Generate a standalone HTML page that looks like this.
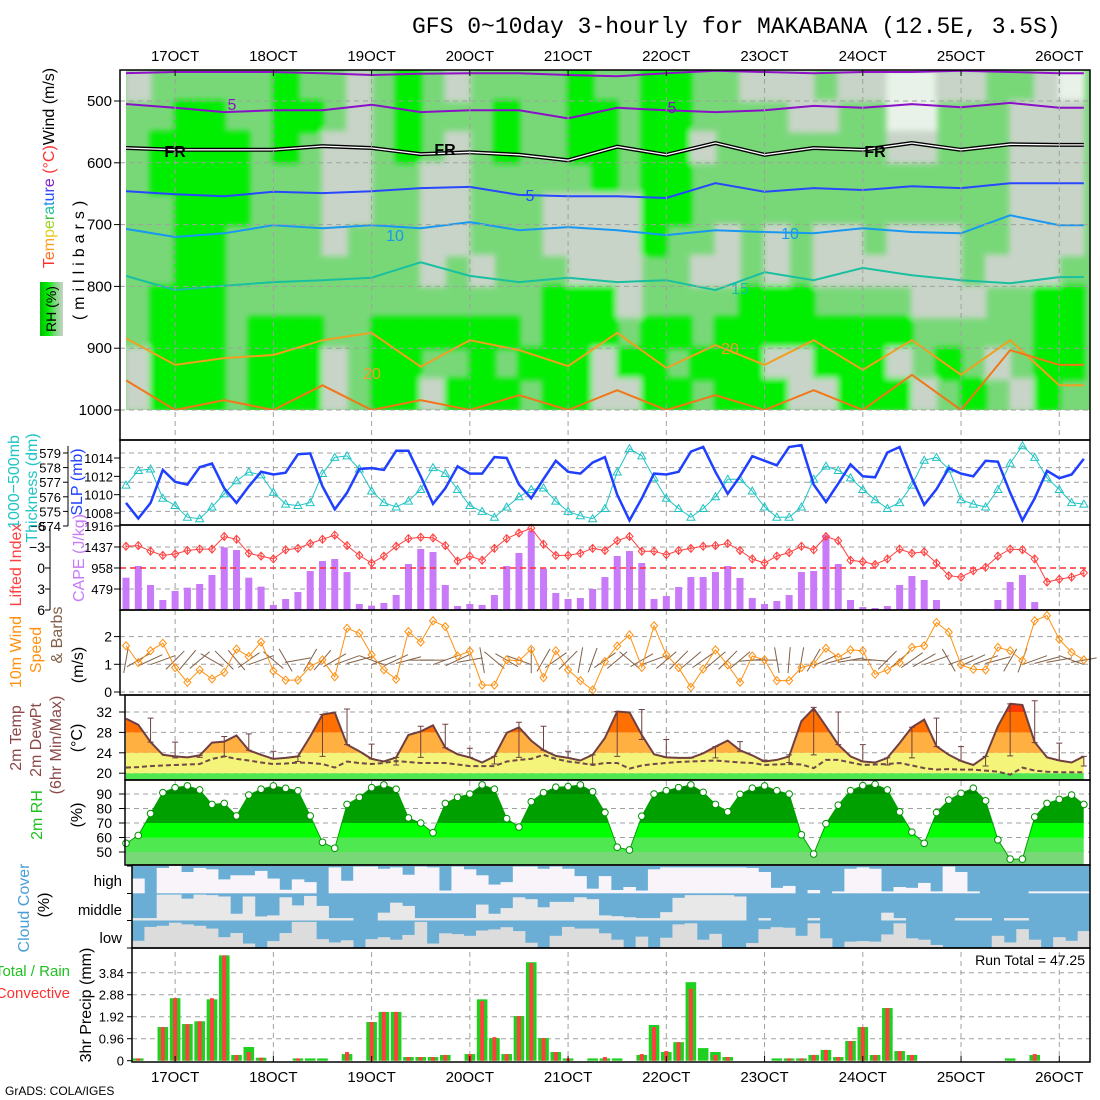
<!DOCTYPE html>
<html><head><meta charset="utf-8"><style>
html,body{margin:0;padding:0;background:#fff;}
svg{display:block;font-family:"Liberation Sans",sans-serif;}
</style></head><body>
<svg id="chart" width="1100" height="1100" viewBox="0 0 1100 1100" xmlns="http://www.w3.org/2000/svg">
<defs>
<clipPath id="clipTop"><rect x="126" y="70" width="964" height="340"/></clipPath>
<filter id="soft" x="-5%" y="-5%" width="110%" height="110%"><feGaussianBlur stdDeviation="3"/></filter>
<linearGradient id="rhLegend" x1="0" y1="0" x2="1" y2="0"><stop offset="0" stop-color="#00c000"/><stop offset="0.35" stop-color="#00ee00"/><stop offset="0.65" stop-color="#78d878"/><stop offset="1" stop-color="#c8d4c8"/></linearGradient>
</defs>
<text x="412" y="33" font-family="Liberation Mono, monospace" font-size="23">GFS 0~10day 3-hourly for MAKABANA (12.5E, 3.5S)</text>
<g id="g-top"></g>
<g id="g-frames"></g>
<g id="g-data"></g>
<g id="g-labels"></g>
</svg>
<script>
// ---------------- DATA ----------------
const dayLabels = ["17OCT","18OCT","19OCT","20OCT","21OCT","22OCT","23OCT","24OCT","25OCT","26OCT"];
const thickness = [576.8,577.8,577.9,575.9,575.4,574.6,574.5,575.3,576.2,577.1,577.7,577.5,576.3,575.5,575.4,575.6,577.6,578.7,578.8,577.9,576.4,575.6,575.3,575.7,576.5,578.0,577.6,576.5,575.4,575.0,574.6,575.3,576.0,576.5,576.6,575.7,575.0,574.7,574.5,575.2,577.7,579.3,578.8,577.3,575.9,575.2,574.6,575.2,576.0,577.2,577.2,576.4,575.3,574.6,574.6,575.3,577.2,578.1,577.8,577.3,576.5,575.8,575.2,575.6,576.8,578.5,578.7,577.9,575.8,575.5,575.3,576.5,578.3,579.5,578.7,577.3,576.5,575.6,575.5];
const slp = [1009.1,1007.4,1009.1,1012.7,1011.4,1011.1,1013.0,1013.4,1010.7,1009.1,1010.9,1012.5,1012.2,1012.4,1014.4,1014.5,1010.9,1008.4,1010.2,1012.8,1012.9,1012.7,1014.8,1014.8,1012.0,1009.0,1010.7,1013.1,1012.3,1012.3,1014.1,1014.0,1011.1,1009.6,1011.7,1013.7,1012.5,1012.3,1013.5,1014.1,1010.0,1007.2,1009.6,1012.3,1012.2,1012.5,1014.7,1015.2,1012.5,1010.1,1012.0,1014.2,1013.7,1013.2,1015.2,1015.4,1011.1,1009.2,1011.2,1013.3,1012.0,1011.9,1014.6,1015.2,1011.8,1008.9,1010.6,1012.9,1012.3,1012.0,1013.7,1013.6,1010.2,1007.2,1009.6,1012.6,1011.8,1012.2,1013.9];
const liftedIndex = [-3.1,-3.2,-2.4,-1.8,-2.0,-2.5,-2.7,-2.7,-4.5,-4.1,-2.1,-1.7,-1.3,-2.6,-2.8,-3.5,-4.1,-4.7,-3.2,-1.8,-0.7,-1.7,-3.1,-4.2,-4.4,-4.3,-3.2,-1.0,-1.7,-1.1,-2.8,-4.2,-5.0,-5.7,-3.4,-1.8,-1.8,-2.1,-2.8,-2.5,-3.9,-4.5,-2.4,-2.4,-1.9,-2.5,-2.8,-3.1,-3.2,-3.5,-2.5,-1.3,-0.7,-1.7,-2.2,-3.1,-2.6,-4.5,-3.9,-1.1,-0.9,-0.5,-1.3,-2.7,-2.1,-2.3,-0.7,1.1,1.3,0.4,-0.1,-1.7,-2.7,-2.6,-1.3,2.0,1.6,1.3,0.7];
const cape = [737,1003,570,228,433,509,593,798,1429,1368,737,532,114,251,410,889,1117,1163,866,137,99,160,342,1049,1391,1322,570,91,137,114,342,1003,1300,1801,942,388,251,274,479,752,1231,1345,1072,251,319,524,752,752,866,1003,730,274,137,205,342,866,889,1710,1049,228,68,46,91,570,775,684,228,0,0,0,23,228,638,798,182,0,0,0,23];
const windSpeed = [1.67,1.06,1.49,1.76,0.88,0.35,0.80,0.47,0.71,1.55,1.28,1.80,0.76,0.43,0.43,0.92,1.16,0.55,2.30,2.12,1.34,0.80,0.46,2.18,1.80,2.57,2.36,1.30,1.48,0.25,0.25,1.16,1.13,1.54,0.52,1.49,0.80,0.41,0.07,1.10,1.66,2.06,0.89,2.39,1.34,0.88,0.17,0.83,1.52,0.98,0.35,1.30,1.16,0.41,0.41,0.88,1.01,1.58,1.25,1.52,1.49,0.64,0.80,1.06,1.61,1.67,2.51,2.16,0.98,0.82,0.80,1.61,1.49,1.13,2.57,2.76,1.90,1.43,1.16];
const windBarbAngle = [80,30,25,20,45,50,40,150,135,130,35,20,140,120,10,60,50,30,20,15,160,20,25,15,0,0,20,25,10,100,140,150,160,90,60,35,45,80,70,35,40,140,30,20,40,45,40,35,40,45,40,5,0,100,85,80,60,25,15,10,0,175,45,40,35,30,20,120,20,25,20,15,60,70,20,15,10,160,10];
const temp2m = [30.7,29.5,26.1,23.6,23.3,23.1,23.5,26.0,26.2,27.4,24.5,23.6,22.8,23.0,23.3,27.2,31.5,31.9,25.6,24.3,22.8,22.3,23.1,27.5,28.2,29.4,25.0,23.7,23.1,22.1,23.3,27.9,29.0,26.4,24.5,23.4,23.0,22.5,23.6,26.9,32.1,31.9,27.5,23.7,23.1,23.0,23.0,23.9,25.2,26.4,24.5,23.5,22.3,22.6,23.3,30.2,32.7,29.2,25.6,23.3,22.3,22.1,23.0,25.9,29.0,30.5,25.3,23.6,22.4,21.6,23.3,29.2,33.6,33.4,26.1,23.1,22.5,22.1,23.3];
const dewpt2m = [21.1,21.2,21.4,21.5,21.6,21.7,21.8,22.8,23.3,22.8,22.5,22.1,21.8,21.9,22.1,22.0,21.8,21.1,22.3,22.0,21.8,22.0,22.4,22.2,22.0,22.0,22.0,21.7,21.4,21.4,21.4,22.3,22.6,22.8,23.6,22.8,22.3,22.0,21.6,22.0,22.0,20.9,21.5,21.8,22.0,22.2,22.3,22.4,22.5,22.3,22.1,22.0,21.6,21.7,21.8,21.7,21.0,22.6,22.6,22.1,21.6,21.7,21.8,22.0,21.5,21.0,20.7,20.8,20.7,20.7,20.5,20.3,19.7,21.1,20.5,20.3,20.2,20.2,20.2];
// 6-hourly max/min, at steps 2,4,...,78
const tmax6 = [30.8,26.1,23.5,27.2,27.7,24.3,23.3,31.5,32.6,25.7,23.1,29.2,29.6,24.9,23.3,30.0,29.2,24.3,23.6,32.1,32.5,26.6,23.1,25.2,26.2,22.6,23.6,32.9,32.0,25.6,23.0,29.0,30.8,25.2,23.3,33.6,34.2,25.9,23.3];
const tmin6 = [26.1,23.0,23.1,23.3,24.5,22.8,22.3,23.3,25.6,22.8,21.6,23.1,25.0,23.1,21.8,23.1,24.5,23.0,21.8,23.3,26.6,23.1,23.0,23.0,24.3,22.3,22.1,23.6,25.6,22.3,21.6,23.0,25.2,22.4,21.4,23.4,26.0,22.5,21.4];
const rh2m = [56.0,61.4,76.5,90.9,94.4,95.6,92.8,82.8,83.5,74.9,89.3,93.3,95.6,93.9,92.3,74.9,56.7,52.6,82.8,87.7,94.4,96.3,93.3,73.5,70.0,63.3,83.5,87.7,90.0,96.3,93.3,73.0,67.2,84.7,90.9,94.7,95.1,96.3,91.6,77.2,53.3,51.4,74.7,90.0,92.3,94.4,96.3,91.2,82.8,77.7,89.8,94.0,95.6,92.3,90.0,61.9,48.6,69.5,82.3,92.3,95.8,96.7,92.8,77.7,63.7,56.0,77.2,85.8,90.5,94.0,85.3,58.4,45.1,45.1,74.2,83.5,86.3,89.3,82.8];
// cloud cover (%) for steps 1..78
const cloudHigh = [46,100,7,0,22,7,12,49,34,34,18,46,87,49,59,100,5,54,2,2,10,5,32,2,5,90,2,12,34,68,59,2,2,10,2,10,37,83,37,88,77,90,12,5,5,5,5,5,5,5,7,22,80,73,100,88,100,93,10,5,10,93,77,80,62,93,2,22,93,100,100,100,100,93,93,93,93,93];
const cloudMid = [91,91,4,4,19,4,6,11,75,11,85,81,14,44,9,46,91,91,100,100,71,34,46,91,91,91,91,91,41,75,54,14,21,51,31,31,14,21,81,84,88,91,91,69,16,6,6,6,6,11,100,91,100,100,100,91,100,100,100,100,100,71,91,100,100,100,100,91,91,91,100,91,91,100,100,100,100,100];
const cloudLow = [73,23,19,8,14,19,29,60,45,83,98,74,45,5,5,67,79,71,100,67,60,69,52,5,83,46,49,55,36,32,24,38,80,98,55,23,29,29,46,69,100,58,100,62,14,10,69,48,100,100,81,31,24,26,55,10,64,100,76,74,76,50,10,64,69,88,100,100,100,100,55,79,31,69,100,60,73,38];
// 3-hr precip (mm) for steps 1..78
const precipTotal = [0.1,0,1.47,2.73,1.6,1.72,2.68,4.6,0.25,0.6,0.13,0,0,0.1,0.1,0.1,0,0.29,0,1.69,2.13,2.13,0.16,0.16,0.16,0.25,0,0.29,2.68,0.99,0.29,1.95,4.3,0.99,0.38,0.1,0,0.1,0.1,0.1,0,0.25,1.56,0.38,0.81,3.43,0.55,0.38,0.16,0,0,0,0.1,0.1,0.1,0.25,0.47,0.16,0.86,1.47,0.25,2.3,0.42,0.25,0,0,0,0,0,0,0,0.1,0,0.25,0,0,0,0];
const precipConv = [0.1,0,1.47,2.73,1.6,1.72,2.73,4.6,0.25,0.38,0.13,0,0,0.1,0,0,0,0.38,0,1.69,2.13,2.13,0.16,0.16,0.16,0.25,0,0.29,2.6,1.03,0.29,1.95,4.26,0.99,0.38,0.1,0,0,0.16,0,0,0.29,1.47,0.42,0.81,3.14,0,0.25,0.16,0,0,0,0,0.1,0.1,0.25,0.47,0.16,0.86,1.47,0.25,2.3,0.42,0.25,0,0,0,0,0,0,0,0,0,0.29,0,0,0,0];
// upper-air RH class grid: rows 450-500 ... 950-1000 mb, 6-hourly columns. 0=grey 1=light green 2=green 3=very light
const rhRows = [
"011111211012101111211221100010033001103",
"112211221012111211221221111001133111000",
"122221210012101211221220111111100111000",
"122221110011001111121221111111111111000",
"112221110011001110000221111111111111000",
"112211110111001110000211010100100011000",
"112211111111010111000110010100000010001",
"122211111111111112220111122211110001122",
"122212221122222212221221222222221111122",
"022212220122112122202212220022201210122",
"022212220122022212200221222002220121021"];
// temperature contours: pressure (mb) sampled every 12 h (steps 0,4,...,76, 78)
const contourSteps = [0,4,8,12,16,20,24,28,32,36,40,44,48,52,56,60,64,68,72,76,78];
const isoM10 = [455,453,453,453,455,458,456,455,455,458,460,455,451,453,455,453,453,451,453,455,455];
const isoM5 = [505,511,518,515,515,506,518,515,515,528,511,515,518,515,508,511,505,510,503,511,511];
const isoFR = [576,579,579,579,573,576,586,583,587,596,574,587,568,587,576,579,568,579,570,571,571];
const iso5 = [646,651,654,647,649,646,641,639,652,654,654,657,633,647,641,644,638,641,633,633,633];
const iso10 = [707,720,714,701,706,701,706,696,709,704,709,717,709,712,714,706,712,714,685,701,701];
const iso15 = [783,806,799,793,790,786,761,783,793,786,793,790,806,777,790,770,782,790,795,785,785];
const iso20 = [884,927,916,911,887,875,930,887,903,929,875,932,895,927,887,935,887,943,887,960,960];
const iso25 = [952,1000,984,1000,960,1000,984,1000,976,1000,968,1000,976,1000,968,1000,943,1000,903,927,927];
const pTicks = [500,600,700,800,900,1000];
const thickTicks = [574,575,576,577,578,579];
const slpTicks = [1008,1010,1012,1014];
const liTicks = [-3,0,3,6];
const capeTicks = [479,958,1437,1916];
const wsTicks = [0,1,2];
const tTicks = [20,24,28,32];
const rhTicks = [50,60,70,80,90];
const prTicks = [0,0.96,1.92,2.88,3.84];
const prTickLabels = ["0","0.96","1.92","2.88","3.84"];

// ---------------- SCALES ----------------
const NS = "http://www.w3.org/2000/svg";
const X = i => 126 + 12.28 * i;
const Yp = p => 101 + (p - 500) * 0.618;
const Yth = t => 453 + (579 - t) * 14.6;
const Yslp = s => 458 + (1014 - s) * 9.17;
const Yli = v => 568 + v * 7;
const Ycape = c => 610 - c * 21 / 479;
const Yws = v => 692 - v * 27.7;
const Yt = t => 712 + (32 - t) * 5.1;
const Yrh = r => 794 + (90 - r) * 1.45;
const Ypr = p => 1060.7 - p * 22.9;
const CH = {high:[866,27.3], mid:[893.5,27], low:[920.5,27.8]};

function el(tag, attrs, parent) {
  const e = document.createElementNS(NS, tag);
  for (const k in attrs) e.setAttribute(k, attrs[k]);
  parent.appendChild(e);
  return e;
}
const gTop = document.getElementById('g-top');
const gF = document.getElementById('g-frames');
const gD = document.getElementById('g-data');
const gL = document.getElementById('g-labels');

// ---------------- TOP PANEL ----------------
const rhCol = {"0":"#c8d4c8","1":"#78d878","2":"#00ee00","3":"#e8f2e8"};
const topClip = el('g', {'clip-path':'url(#clipTop)'}, gTop);


el('rect', {x:126,y:70,width:964,height:340,fill:'#78d878'}, topClip);
const blurG = el('g', {filter:'url(#soft)'}, topClip);
rhRows.forEach((row, r) => {
  for (let c = 0; c < 39; c++) {
    const v = row[c] || '1';
    if (v === '1') continue;
    const y0 = Yp(450 + 50 * r), y1 = Yp(500 + 50 * r);
    const rc = el('rect', {x:X(2*c)-1, y:y0-1, width:X(2*c+2)-X(2*c)+2, height:y1-y0+2, fill:rhCol[v]}, blurG);
    
    
  }
});
function contour(arr, color, w, name, fr) {
  const pts = arr.map((p, k) => X(contourSteps[k]).toFixed(1) + ',' + Yp(Math.min(p,1000)).toFixed(1)).join(' ');
  if (fr) {
    const b = el('polyline', {points:pts, fill:'none', stroke:'#000', 'stroke-width':4}, topClip);
    
    
    const wl = el('polyline', {points:pts, fill:'none', stroke:'#fff', 'stroke-width':1.3}, topClip);
    
    
  } else {
    const l = el('polyline', {points:pts, fill:'none', stroke:color, 'stroke-width':w}, topClip);
    
    
  }
}
contour(isoM10, '#9010c8', 2, 'isotherm-minus10');
contour(isoM5, '#8a10c8', 2, 'isotherm-minus5');
contour(isoFR, '#000', 2, 'freezing-level', true);
contour(iso5, '#2848ff', 2, 'isotherm-5');
contour(iso10, '#1898f0', 2, 'isotherm-10');
contour(iso15, '#18c0a0', 2, 'isotherm-15');
contour(iso20, '#f0a020', 2, 'isotherm-20');
contour(iso25, '#f07818', 2, 'isotherm-25');
const cLabels = [["5",232,110,'#8a10c8'],["FR",175,157,'#000'],["FR",445,155,'#000'],["FR",875,157,'#000'],["5",530,201,'#2848ff'],["5",672,113,'#8a10c8'],["10",395,241,'#1898f0'],["10",790,239,'#1898f0'],["15",740,294,'#18c0a0'],["20",372,379,'#f0a020'],["20",730,354,'#f0a020']];
cLabels.forEach(l => {
  const t = el('text', {x:l[1], y:l[2], fill:l[3], 'font-size':16, 'font-weight': l[0]==='FR'?'bold':'normal', 'text-anchor':'middle'}, topClip);
  t.textContent = l[0];
  
  
});

// ---------------- FRAMES & GRIDS ----------------
function dashH(y, x0, x1) {
  const l = el('line', {x1:x0, x2:x1, y1:y, y2:y, stroke:'#a0a0a0', 'stroke-width':1, 'stroke-dasharray':'5,4'}, gF);
  
  
}
pTicks.forEach(p => dashH(Yp(p), 120, 1090));
thickTicks.slice(1).forEach(t => dashH(Yth(t), 120, 1090));
liTicks.slice(0,3).forEach(v => { if (v !== 0) dashH(Yli(v), 120, 1090); });
wsTicks.forEach(v => dashH(Yws(v), 120, 1090));
tTicks.forEach(v => dashH(Yt(v), 125, 1090));
rhTicks.forEach(v => dashH(Yrh(v), 125, 1090));

// ---------------- THICKNESS / SLP ----------------
function polyline(vals, fx, color, w, name, dash) {
  const pts = vals.map((v, i) => X(i).toFixed(1) + ',' + fx(v).toFixed(1)).join(' ');
  const a = {points:pts, fill:'none', stroke:color, 'stroke-width':w};
  if (dash) a['stroke-dasharray'] = dash;
  const l = el('polyline', a, gD);
  
  
  return l;
}
polyline(thickness, Yth, '#20c4c4', 1, 'thickness-line');
thickness.forEach((v, i) => {
  const x = X(i), y = Yth(v);
  const m = el('polygon', {points:`${x},${y-4} ${x-4},${y+3} ${x+4},${y+3}`, fill:'none', stroke:'#20c4c4', 'stroke-width':1}, gD);
  
  
});
polyline(slp, Yslp, '#2040ff', 2.5, 'slp-line');

// ---------------- LI / CAPE ----------------
cape.forEach((c, i) => {
  if (c <= 0) return;
  const b = el('rect', {x:X(i)-3.5, y:Ycape(c), width:7, height:610-Ycape(c), fill:'#c87af8'}, gD);
  
  
});
const zl = el('line', {x1:120, x2:1090, y1:Yli(0), y2:Yli(0), stroke:'#ff3030', 'stroke-width':1.5, 'stroke-dasharray':'6,4'}, gD);


polyline(liftedIndex, Yli, '#ff4040', 1, 'lifted-index-line');
liftedIndex.forEach((v, i) => {
  const x = X(i), y = Yli(v);
  const m = el('path', {d:`M${x-3.5},${y} L${x},${y-4} L${x+3.5},${y} L${x},${y+4} Z M${x},${y-4} L${x},${y+4}`, fill:'none', stroke:'#ff4040', 'stroke-width':1}, gD);
  
  
});

// ---------------- WIND ----------------
windBarbAngle.forEach((a, i) => {
  const r = a * Math.PI / 180, x = X(i), y = Yws(1.15);
  const dx = Math.cos(r) * 13, dy = -Math.sin(r) * 13;
  const b = el('line', {x1:x-dx, y1:y-dy, x2:x+dx, y2:y+dy, stroke:'#806048', 'stroke-width':1}, gD);
  
  
});
polyline(windSpeed, Yws, '#ff9010', 1, 'wind-speed-line');
windSpeed.forEach((v, i) => {
  const x = X(i), y = Yws(v);
  const m = el('path', {d:`M${x-3.5},${y} L${x},${y-4} L${x+3.5},${y} L${x},${y+4} Z`, fill:'none', stroke:'#ff9010', 'stroke-width':1}, gD);
  
  
});

// ---------------- BANDED AREA helper ----------------
function bandedArea(vals, fy, bands, baseY, name) {
  const id = 'clip-' + name;
  const cp = el('clipPath', {id:id}, gD);
  let d = `M${X(0)},${baseY} ` + vals.map((v, i) => `L${X(i).toFixed(1)},${fy(v).toFixed(1)}`).join(' ') + ` L${X(vals.length-1)},${baseY} Z`;
  el('path', {d:d}, cp);
  const g = el('g', {'clip-path':`url(#${id})`}, gD);
  
  
  bands.forEach(b => {
    const y0 = fy(b[1]), y1 = fy(b[0]);
    const r = el('rect', {x:X(0), y:Math.min(y0,y1), width:X(vals.length-1)-X(0), height:Math.abs(y1-y0), fill:b[2]}, g);
    
    
  });
}
// ---------------- TEMP ----------------
bandedArea(temp2m, Yt, [[18.6,20,'#50e850'],[20,24,'#f4f47a'],[24,28,'#ffb040'],[28,32,'#ff7000'],[32,40,'#ff3800']], 780, 'temp-fill');
polyline(temp2m, Yt, '#704040', 2, 'temp-line');
polyline(dewpt2m, Yt, '#704848', 2, 'dewpoint-line', '5,3');
tmax6.forEach((mx, k) => {
  const i = 2 * (k + 1), x = X(i), y0 = Yt(mx), y1 = Yt(tmin6[k]);
  const w = el('path', {d:`M${x},${y0} L${x},${y1} M${x-3},${y0} L${x+3},${y0} M${x-3},${y1} L${x+3},${y1}`, stroke:'#704040', 'stroke-width':1, fill:'none'}, gD);
  
  
});
// ---------------- RH ----------------
bandedArea(rh2m, Yrh, [[40,50,'#78d878'],[50,60,'#50e850'],[60,70,'#00ff00'],[70,90,'#00a000'],[90,100,'#008800']], 865, 'rh-fill');
polyline(rh2m, Yrh, '#00a000', 1, 'rh-line');
rh2m.forEach((v, i) => {
  const c = el('circle', {cx:X(i), cy:Yrh(v), r:3.3, fill:'#fff', stroke:'#009000', 'stroke-width':1}, gD);
  
  
});

// ---------------- CLOUD ----------------
const cb = el('rect', {x:132, y:866, width:958, height:82, fill:'#6aaed6'}, gD);


function cloudRow(vals, key, color, name) {
  const [top, h] = CH[key];
  vals.forEach((v, k) => {
    const i = k + 1;
    const clear = (100 - v) / 100 * h;
    if (clear <= 0) return;
    const x0 = Math.max(132, X(i) - 6.14), x1 = Math.min(1090, X(i) + 6.14);
    const r = el('rect', {x:x0, y:top + h - clear, width:x1 - x0 + 0.3, height:clear, fill:color}, gD);
    
    
  });
}
cloudRow(cloudHigh, 'high', '#f8f4fa', 'high-cloud-clear');
cloudRow(cloudMid, 'mid', '#e8e8e8', 'mid-cloud-clear');
cloudRow(cloudLow, 'low', '#dcdcdc', 'low-cloud-clear');
[893.5, 920.5].forEach(y => dashH(y, 132, 1090));

// ---------------- PRECIP ----------------
prTicks.slice(1).forEach(v => dashH(Ypr(v), 132, 1090));
precipTotal.forEach((v, k) => {
  const i = k + 1;
  if (v > 0) {
    const b = el('rect', {x:X(i)-5.3, y:Ypr(v), width:10.6, height:1060.7-Ypr(v), fill:'#20d020'}, gD);
    
    
  }
  const c = precipConv[k];
  if (c > 0) {
    const r = el('rect', {x:X(i)-2, y:Ypr(c), width:4, height:1060.7-Ypr(c), fill:'#ff4040'}, gD);
    
    
  }
});

// vertical day lines
dayLabels.forEach((d, k) => {
  const x = X(4 + 8 * k);
  const l = el('line', {x1:x, x2:x, y1:70, y2:1062, stroke:'#a0a0a0', 'stroke-width':1, 'stroke-dasharray':'5,4'}, gF);
  
  
  [[61,'top'],[1082,'bottom']].forEach(p => {
    const t = el('text', {x:x, y:p[0], 'font-size':15, 'text-anchor':'middle'}, gL);
    t.textContent = d;
    
    
  });
  [[70,76],[1056,1062]].forEach(p => {
    const tk = el('line', {x1:x, x2:x, y1:p[0], y2:p[1], stroke:'#000'}, gL);
    
    
  });
});

// panel frames
[[120,70,970,370,'upper-air-panel'],[120,440,970,85,'thickness-slp-panel'],[120,525,970,85,'li-cape-panel'],[120,610,970,85,'wind-panel'],[125,695,965,85,'temp-panel'],[125,780,965,85,'rh-panel'],[132,865,958,83,'cloud-panel'],[132,948,958,114,'precip-panel']].forEach(f => {
  const r = el('rect', {x:f[0], y:f[1], width:f[2], height:f[3], fill:'none', stroke:'#000', 'stroke-width':1.5}, gL);
  
  
});

// ---------------- AXIS LABELS ----------------
function tickLabel(txt, x, y, anchor, size, color, name) {
  const t = el('text', {x:x, y:y, 'font-size':size, 'text-anchor':anchor, fill:color || '#000'}, gL);
  t.textContent = txt;
  
  
  return t;
}
function tick(x0, x1, y, name) {
  const l = el('line', {x1:x0, x2:x1, y1:y, y2:y, stroke:'#000'}, gL);
  
  
}
pTicks.forEach(p => { tickLabel(String(p), 112, Yp(p)+5, 'end', 15, '#000', 'pressure-tick-label'); tick(114, 120, Yp(p), 'pressure-tick'); });
thickTicks.forEach(t => { tickLabel(String(t), 61, Yth(t)+5, 'end', 13, '#000', 'thickness-tick-label'); tick(63, 68, Yth(t), 'thickness-tick'); });
const ax1 = el('line', {x1:68, x2:68, y1:446, y2:526, stroke:'#000'}, gL);


slpTicks.forEach(s => { tickLabel(String(s), 113, Yslp(s)+5, 'end', 13, '#000', 'slp-tick-label'); tick(114, 120, Yslp(s), 'slp-tick'); });
liTicks.forEach(v => { tickLabel(String(v).replace('-','\u2212'), 45, Yli(v)+5, 'end', 14, '#000', 'li-tick-label'); tick(45, 50, Yli(v), 'li-tick'); });
tickLabel('\u22126', 45, 531, 'end', 13, '#000', 'li-tick-label');
const ax2 = el('line', {x1:50, x2:50, y1:526, y2:610, stroke:'#000'}, gL);


capeTicks.forEach(c => { tickLabel(String(c), 113, Ycape(c)+5, 'end', 13, '#000', 'cape-tick-label'); tick(114, 120, Ycape(c), 'cape-tick'); });
wsTicks.forEach(v => { tickLabel(String(v), 112, Yws(v)+5, 'end', 14, '#000', 'wind-tick-label'); tick(114, 120, Yws(v), 'wind-tick'); });
tTicks.forEach(v => { tickLabel(String(v), 112, Yt(v)+5, 'end', 14, '#000', 'temp-tick-label'); tick(119, 125, Yt(v), 'temp-tick'); });
rhTicks.forEach(v => { tickLabel(String(v), 112, Yrh(v)+5, 'end', 14, '#000', 'rh-tick-label'); tick(119, 125, Yrh(v), 'rh-tick'); });
[['high',881],['middle',910],['low',938]].forEach(c => tickLabel(c[0], 122, c[1]+5, 'end', 15, '#000', 'cloud-level-label'));
[866, 893.5, 920.5, 948].forEach(y => tick(127, 132, y, 'cloud-tick'));
prTicks.forEach((v, k) => { tickLabel(prTickLabels[k], 124, Ypr(v)+5, 'end', 13, '#000', 'precip-tick-label'); tick(127, 132, Ypr(v), 'precip-tick'); });
tickLabel('Run Total = 47.25', 1085, 965, 'end', 14, '#000', 'run-total-label');
tickLabel('GrADS: COLA/IGES', 5, 1095, 'start', 12, '#000', 'credit-label');
tickLabel('Total / Rain', 70, 976, 'end', 15, '#20c020', 'precip-legend-total');
tickLabel('Convective', 70, 998, 'end', 15, '#ff3030', 'precip-legend-convective');

function vlabel(parts, cx, cy, size, name, spacing) {
  const t = el('text', {transform:`translate(${cx},${cy}) rotate(-90)`, 'font-size':size, 'text-anchor':'middle', 'dominant-baseline':'middle'}, gL);
  if (spacing) t.setAttribute('letter-spacing', spacing);
  parts.forEach(p => {
    const s = el('tspan', {fill:p[1]}, t);
    s.textContent = p[0];
  });
  
  
}
vlabel([['T','#ff3030'],['e','#ff7020'],['m','#ffa020'],['p','#e0d020'],['e','#a0d020'],['r','#40c040'],['a','#20c0a0'],['t','#2090e0'],['u','#2050ff'],['r','#4040ff'],['e','#8020c8'],[' (\u00b0C)','#ff3030'],['Wind (m/s)','#000']], 50, 168, 16, 'temperature-wind-axis-title');
vlabel([['(millibars)','#000']], 80, 258, 16, 'pressure-axis-title', '5');
const rhBox = el('rect', {x:40, y:282, width:23, height:54, fill:'url(#rhLegend)'}, gL);


vlabel([['RH (%)','#000']], 52, 309, 14, 'rh-legend-label');
vlabel([['1000\u2212500mb','#20c4c4']], 15, 482, 16, 'thickness-axis-title');
vlabel([['Thickness (dm)','#20c4c4']], 33, 488, 16, 'thickness-unit-title');
vlabel([['SLP (mb)','#2040ff']], 78, 482, 16, 'slp-axis-title');
vlabel([['Lifted Index','#ff4040']], 17, 565, 16, 'lifted-index-title');
vlabel([['CAPE (J/kg)','#c87af8']], 80, 558, 16, 'cape-title');
vlabel([['10m Wind','#ff9010']], 17, 652, 16, 'wind-title');
vlabel([['Speed','#ff9010']], 37, 650, 16, 'wind-speed-title');
vlabel([['& Barbs','#806048']], 58, 635, 16, 'wind-barbs-title');
vlabel([['(m/s)','#000']], 79, 665, 16, 'wind-unit-title');
vlabel([['2m Temp','#8a4848']], 17, 738, 16, 'temp-title');
vlabel([['2m DewPt','#8a4848']], 37, 740, 16, 'dewpoint-title');
vlabel([['(6hr Min/Max)','#8a4848']], 57, 745, 16, 'minmax-title');
vlabel([['(\u00b0C)','#000']], 78, 738, 16, 'temp-unit-title');
vlabel([['2m RH','#20c020']], 38, 815, 16, 'rh-title');
vlabel([['(%)','#000']], 78, 815, 16, 'rh-unit-title');
vlabel([['Cloud Cover','#4a9ed6']], 25, 908, 16, 'cloud-title');
vlabel([['(%)','#000']], 45, 905, 16, 'cloud-unit-title');
vlabel([['3hr Precip (mm)','#000']], 87, 1005, 16, 'precip-title');
</script>
</body></html>
